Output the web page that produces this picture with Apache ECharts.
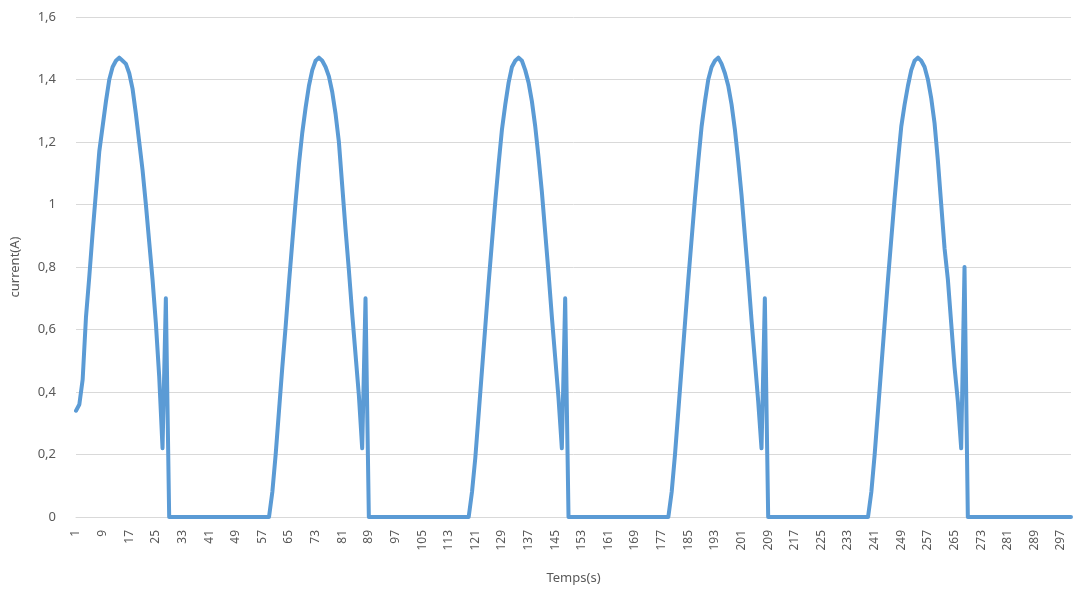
<!DOCTYPE html>
<html>
<head>
<meta charset="utf-8">
<script src="https://cdn.jsdelivr.net/npm/echarts@6/dist/echarts.min.js"></script>
<style>
html,body{margin:0;padding:0;background:#fff;}
#chart{width:1073px;height:590px;}
</style>
</head>
<body>
<div id="chart"></div>
<script>
// Time samples 1..300 (category axis)
const timeCount = 300;
const yTicks = [0, 0.2, 0.4, 0.6, 0.8, 1, 1.2, 1.4, 1.6];

// Current readings, samples 1-60
const block1 = [0.34,0.36,0.44,0.64,0.77,0.91,1.04,1.17,1.25,1.33,1.40,1.44,1.46,1.47,1.46,1.45,1.42,1.37,1.29,1.20,1.11,1.00,0.88,0.76,0.62,0.45,0.22,0.70,
  0,0,0,0,0,0,0,0,0,0, 0,0,0,0,0,0,0,0,0,0, 0,0,0,0,0,0,0,0,0,0, 0,
  0.08];
// samples 61-120
const block2 = [0.20,0.34,0.48,0.61,0.75,0.88,1.01,1.13,1.23,1.31,1.38,1.43,1.46,1.47,1.46,1.44,1.41,1.36,1.29,1.20,1.06,0.92,0.79,0.65,0.52,0.39,0.22,0.70,
  0,0,0,0,0,0,0,0,0,0, 0,0,0,0,0,0,0,0,0,0, 0,0,0,0,0,0,0,0,0,0, 0,
  0.08];
// samples 121-180
const block3 = [0.19,0.33,0.47,0.61,0.75,0.88,1.01,1.13,1.24,1.32,1.39,1.44,1.46,1.47,1.46,1.43,1.39,1.33,1.25,1.15,1.04,0.91,0.78,0.64,0.51,0.38,0.22,0.70,
  0,0,0,0,0,0,0,0,0,0, 0,0,0,0,0,0,0,0,0,0, 0,0,0,0,0,0,0,0,0,0, 0,
  0.08];
// samples 181-240
const block4 = [0.20,0.34,0.48,0.62,0.76,0.89,1.02,1.14,1.25,1.33,1.40,1.44,1.46,1.47,1.45,1.42,1.38,1.32,1.24,1.14,1.03,0.90,0.77,0.63,0.50,0.37,0.22,0.70,
  0,0,0,0,0,0,0,0,0,0, 0,0,0,0,0,0,0,0,0,0, 0,0,0,0,0,0,0,0,0,0, 0,
  0.08];
// samples 241-300
const block5 = [0.20,0.34,0.48,0.62,0.76,0.89,1.02,1.14,1.25,1.32,1.38,1.43,1.46,1.47,1.46,1.44,1.40,1.34,1.26,1.14,1.00,0.86,0.76,0.62,0.48,0.37,0.22,0.80,
  0,0,0,0,0,0,0,0,0,0, 0,0,0,0,0,0,0,0,0,0, 0,0,0,0,0,0,0,0,0,0, 0,0];

const categories = [];
for (let i = 1; i <= timeCount; i++) categories.push(String(i));
const current = block1.concat(block2, block3, block4, block5);

const labelColor = '#595959';
const font = 'Noto Sans';
const chart = echarts.init(document.getElementById('chart'), null, {renderer: 'canvas'});
chart.setOption({
  animation: false,
  grid: {left: 76, right: 2, top: 17, bottom: 72, containLabel: false},
  xAxis: {
    type: 'category',
    data: categories,
    boundaryGap: false,
    name: 'Temps(s)',
    nameLocation: 'middle',
    nameGap: 55,
    nameTextStyle: {color: labelColor, fontFamily: font, fontSize: 13},
    axisLine: {lineStyle: {color: '#d9d9d9', width: 1}},
    axisTick: {show: false},
    axisLabel: {interval: 7, rotate: 90, color: labelColor, fontFamily: font, fontSize: 12, margin: 13},
    splitLine: {show: false}
  },
  yAxis: {
    type: 'value',
    min: yTicks[0],
    max: yTicks[yTicks.length - 1],
    interval: 0.2,
    name: 'current(A)',
    nameLocation: 'middle',
    nameGap: 54,
    nameRotate: 90,
    nameTextStyle: {color: labelColor, fontFamily: font, fontSize: 13},
    axisLine: {show: false},
    axisTick: {show: false},
    axisLabel: {
      color: labelColor, fontFamily: font, fontSize: 13, margin: 20,
      formatter: v => String(Math.round(v * 10) / 10).replace('.', ',')
    },
    splitLine: {lineStyle: {color: '#d9d9d9', width: 1}}
  },
  series: [{
    type: 'line',
    data: current,
    showSymbol: false,
    symbol: 'none',
    smooth: false,
    lineStyle: {color: '#5b9bd5', width: 4, join: 'round', cap: 'round'},
    itemStyle: {color: '#5b9bd5'}
  }]
});
</script>
</body>
</html>
